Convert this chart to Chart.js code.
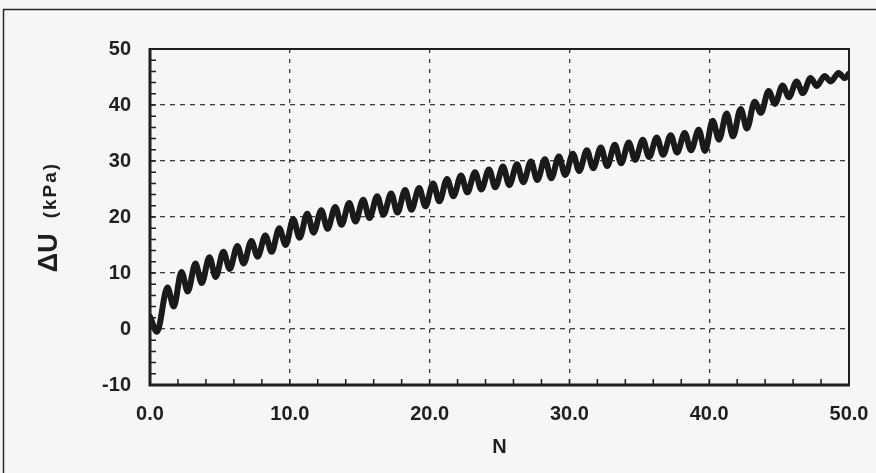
<!DOCTYPE html>
<html><head><meta charset="utf-8">
<script src="https://cdn.jsdelivr.net/npm/chart.js@4/dist/chart.umd.min.js"></script>
<style>html,body{margin:0;padding:0;background:#f4f6f8;overflow:hidden}#wrap{width:876px;height:473px;position:relative}</style>
</head><body><div id="wrap"><canvas id="c" width="876" height="473"></canvas></div>
<script>
// Cycle number N at each extreme of the pore pressure trace (start, trough, peak, trough, ... end)
const cycleN = [
  0.0, 0.5,
  1.25, 1.7, 2.25, 2.7, 3.25, 3.7, 4.25, 4.7, 5.25, 5.7, 6.25, 6.7, 7.25, 7.7, 8.25, 8.7, 9.25, 9.7,
  10.25, 10.7, 11.25, 11.7, 12.25, 12.7, 13.25, 13.7, 14.25, 14.7, 15.25, 15.7, 16.25, 16.7, 17.25, 17.7, 18.25, 18.7, 19.25, 19.7,
  20.25, 20.7, 21.25, 21.7, 22.25, 22.7, 23.25, 23.7, 24.25, 24.7, 25.25, 25.7, 26.25, 26.7, 27.25, 27.7, 28.25, 28.7, 29.25, 29.7,
  30.25, 30.7, 31.25, 31.7, 32.25, 32.7, 33.25, 33.7, 34.25, 34.7, 35.25, 35.7, 36.25, 36.7, 37.25, 37.7, 38.25, 38.7, 39.25, 39.7,
  40.25, 40.7, 41.25, 41.7, 42.25, 42.7, 43.25, 43.7, 44.25, 44.7, 45.25, 45.7, 46.25, 46.7, 47.25, 47.7, 48.25, 48.7, 49.25, 49.7,
  50.0
];
// Excess pore pressure ΔU (kPa) at those points
const deltaU = [
  2.2, -0.5,
  7.4, 4.0, 10.2, 6.7, 11.7, 8.2, 12.8, 9.3, 13.8, 10.7, 14.8, 11.7, 15.7, 12.9, 16.7, 13.8, 18.0, 15.0,
  19.6, 16.3, 20.6, 17.2, 21.2, 17.9, 21.8, 18.6, 22.5, 19.2, 23.1, 19.8, 23.7, 20.4, 24.2, 20.8, 24.8, 21.3, 25.2, 21.9,
  26.0, 22.8, 26.8, 23.7, 27.4, 24.4, 28.0, 24.9, 28.5, 25.3, 29.0, 25.7, 29.4, 26.2, 29.9, 26.6, 30.3, 26.9, 30.8, 27.5,
  31.3, 28.2, 31.9, 28.7, 32.4, 29.1, 32.9, 29.6, 33.3, 30.2, 33.8, 30.7, 34.2, 31.1, 34.6, 31.5, 35.0, 31.9, 35.6, 31.8,
  37.2, 33.8, 38.5, 34.4, 39.3, 35.8, 40.6, 38.6, 42.5, 40.2, 43.5, 41.4, 44.2, 42.1, 44.8, 43.4, 45.2, 44.2, 45.7, 44.8,
  45.6
];
const xTicks = [0, 10, 20, 30, 40, 50];
const yTicks = [-10, 0, 10, 20, 30, 40, 50];
const minorStep = 2;
const xTitle = 'N';
const yTitleMain = 'ΔU';
const yTitleUnit = '(kPa)';

const FONT = "'Liberation Sans', Arial, sans-serif";
const INK = '#1e1e1e';

const decor = {
  id: 'decor',
  beforeDraw(chart) {
    const ctx = chart.ctx;
    ctx.save();
    ctx.fillStyle = '#f4f6f8';
    ctx.fillRect(0, 0, chart.width, chart.height);
    ctx.strokeStyle = '#2a2a2a';
    ctx.lineWidth = 1.5;
    ctx.beginPath();
    ctx.moveTo(3.5, chart.height + 5);
    ctx.lineTo(3.5, 9.5);
    ctx.lineTo(chart.width + 5, 9.5);
    ctx.stroke();
    ctx.restore();
  },
  afterDraw(chart) {
    const {ctx, chartArea: a, scales: {x, y}} = chart;
    ctx.save();
    ctx.strokeStyle = INK;
    ctx.lineWidth = 1.5;
    ctx.beginPath();
    for (let v = x.min; v <= x.max; v += minorStep) {
      const px = x.getPixelForValue(v);
      ctx.moveTo(px, a.bottom); ctx.lineTo(px, a.bottom - 6);
    }
    for (let v = y.min; v <= y.max; v += minorStep) {
      const py = y.getPixelForValue(v);
      ctx.moveTo(a.left, py); ctx.lineTo(a.left + 6, py);
    }
    ctx.stroke();
    ctx.lineWidth = 2;
    ctx.strokeRect(a.left, a.top, a.right - a.left, a.bottom - a.top);
    ctx.lineWidth = 3;
    ctx.beginPath();
    ctx.moveTo(a.left, a.top - 1); ctx.lineTo(a.left, a.bottom); ctx.lineTo(a.right + 1, a.bottom);
    ctx.stroke();
    const cy = (a.top + a.bottom) / 2;
    ctx.translate(57, cy);
    ctx.rotate(-Math.PI / 2);
    ctx.fillStyle = INK;
    ctx.textBaseline = 'alphabetic';
    ctx.textAlign = 'left';
    const f1 = 'bold 27px ' + FONT, f2 = 'bold 19px ' + FONT;
    ctx.font = f1; const w1 = ctx.measureText(yTitleMain).width;
    ctx.font = f2; ctx.letterSpacing = '2px'; const w2 = ctx.measureText(yTitleUnit).width;
    ctx.letterSpacing = '0px';
    const gap = 15, total = w1 + gap + w2;
    ctx.font = f1; ctx.fillText(yTitleMain, -total / 2, 0);
    ctx.font = f2; ctx.letterSpacing = '2px';
    ctx.fillText(yTitleUnit, -total / 2 + w1 + gap, -1);
    ctx.restore();
  }
};

const tickFont = {family: FONT, weight: 'bold', size: 20};

new Chart(document.getElementById('c'), {
  type: 'line',
  data: {
    datasets: [{
      data: cycleN.map((n, i) => ({x: n, y: deltaU[i]})),
      borderColor: '#1a1a1a',
      borderWidth: 6,
      pointRadius: 0,
      cubicInterpolationMode: 'monotone',
      borderJoinStyle: 'round',
      borderCapStyle: 'round',
      fill: false
    }]
  },
  options: {
    responsive: false,
    animation: false,
    events: [],
    layout: {padding: {left: 0, right: 27, top: 49, bottom: 0}},
    plugins: {legend: {display: false}, tooltip: {enabled: false}},
    scales: {
      x: {
        type: 'linear', min: 0, max: 50,
        afterBuildTicks: s => { s.ticks = xTicks.map(v => ({value: v})); },
        afterFit: s => { s.height = 88; s.paddingLeft = 0; s.paddingRight = 0; },
        ticks: {callback: v => Number(v).toFixed(1), font: tickFont, color: INK, padding: 17, maxRotation: 0, autoSkip: false},
        grid: {color: '#3c3c3c', lineWidth: 1.3, drawTicks: false},
        border: {display: false, dash: [4, 6]},
        title: {display: true, text: xTitle, font: tickFont, color: INK, padding: {top: 0, bottom: 14}}
      },
      y: {
        type: 'linear', min: -10, max: 50,
        afterBuildTicks: s => { s.ticks = yTicks.map(v => ({value: v})); },
        afterFit: s => { s.width = 150; s.paddingTop = 0; s.paddingBottom = 0; },
        ticks: {font: tickFont, color: INK, padding: 19, autoSkip: false},
        grid: {color: '#3c3c3c', lineWidth: 1.3, drawTicks: false},
        border: {display: false, dash: [5, 5]}
      }
    }
  },
  plugins: [decor]
});
</script>
</body></html>
